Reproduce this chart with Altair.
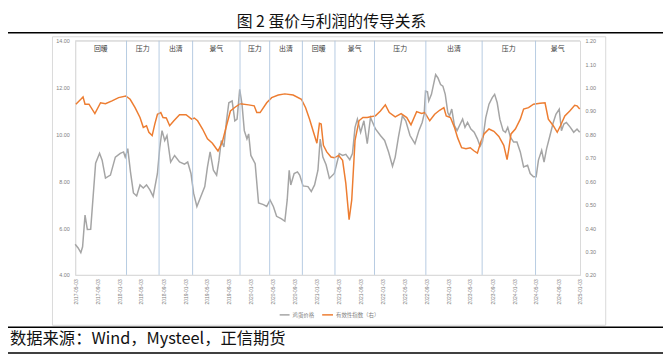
import altair as alt
import pandas as pd

# ---- data (decimal years) ----
gray_t = [2017.334, 2017.379, 2017.420, 2017.447, 2017.484, 2017.519, 2017.570, 2017.645, 2017.705, 2017.744,
          2017.795, 2017.870, 2017.945, 2018.020, 2018.070, 2018.095, 2018.134, 2018.175, 2018.220, 2018.269,
          2018.320, 2018.370, 2018.419, 2018.470, 2018.520, 2018.585, 2018.621, 2018.655, 2018.696, 2018.730,
          2018.786, 2018.846, 2018.921, 2018.996, 2019.045, 2019.095, 2019.135, 2019.185, 2019.245, 2019.305,
          2019.346, 2019.386, 2019.436, 2019.485, 2019.521, 2019.556, 2019.596, 2019.635, 2019.671, 2019.721,
          2019.762, 2019.796, 2019.836, 2019.871, 2019.906, 2019.946, 2019.972, 2020.006, 2020.071, 2020.122,
          2020.197, 2020.246, 2020.296, 2020.347, 2020.396, 2020.471, 2020.521, 2020.557, 2020.587, 2020.611,
          2020.662, 2020.712, 2020.746, 2020.797, 2020.872, 2020.922, 2020.972, 2021.023, 2021.057, 2021.098,
          2021.147, 2021.197, 2021.272, 2021.347, 2021.398, 2021.447, 2021.507, 2021.548, 2021.587, 2021.623,
          2021.672, 2021.722, 2021.773, 2021.822, 2021.898, 2021.973, 2022.037, 2022.097, 2022.157, 2022.198,
          2022.247, 2022.307, 2022.358, 2022.423, 2022.498, 2022.558, 2022.608, 2022.638, 2022.659, 2022.689,
          2022.708, 2022.749, 2022.813, 2022.848, 2022.888, 2022.923, 2022.959, 2022.998, 2023.023, 2023.058,
          2023.099, 2023.139, 2023.174, 2023.223, 2023.259, 2023.298, 2023.349, 2023.399, 2023.448, 2023.489,
          2023.524, 2023.575, 2023.624, 2023.674, 2023.710, 2023.749, 2023.789, 2023.839, 2023.875, 2023.909,
          2023.950, 2023.999, 2024.049, 2024.100, 2024.150, 2024.210, 2024.250, 2024.300, 2024.340, 2024.375,
          2024.424, 2024.460, 2024.499, 2024.550, 2024.600, 2024.640, 2024.690, 2024.724, 2024.760, 2024.799,
          2024.859, 2024.910, 2024.960, 2025.001]
gray_v = [5.31, 5.15, 4.95, 5.2, 6.55, 5.94, 5.95, 8.77, 9.19, 8.9,
          8.13, 8.26, 9.03, 9.19, 9.25, 9.03, 9.39, 8.4, 7.5, 7.37,
          7.84, 7.71, 7.84, 7.63, 7.35, 8.33, 9.46, 10.16, 9.74, 9.95,
          8.82, 9.1, 8.82, 8.73, 8.82, 8.33, 7.49, 6.92, 7.35, 7.77,
          8.61, 9.25, 8.47, 8.26, 8.9, 9.74, 9.46, 10.58, 11.35, 11.43,
          10.58, 10.65, 11.92, 11.29, 10.16, 9.81, 10.02, 9.1, 8.75, 7.07,
          7.0, 6.92, 7.2, 6.92, 6.5, 6.39, 6.29, 7.2, 8.47, 7.84,
          8.33, 8.4, 8.26, 7.8, 7.77, 7.56, 7.84, 8.47, 9.8, 9.03,
          8.7, 8.12, 8.33, 9.18, 9.1, 9.15, 8.92, 9.18, 10.3, 10.65,
          10.09, 10.58, 9.6, 10.72, 10.23, 9.95, 9.74, 9.25, 8.64, 9.03,
          9.88, 10.79, 10.58, 9.95, 9.6, 10.16, 10.51, 10.86, 11.85, 11.82,
          11.43, 11.71, 12.55, 12.41, 12.13, 12.06, 11.71, 10.93, 10.79, 11.08,
          10.37, 10.16, 10.37, 10.65, 10.3, 10.51, 10.23, 10.09, 9.81, 9.49,
          9.67, 10.72, 11.29, 11.57, 11.71, 11.35, 10.65, 10.16, 10.09, 10.3,
          9.88, 9.67, 9.67, 9.25, 8.61, 8.68, 8.33, 8.19, 8.19, 8.9,
          9.32, 8.82, 9.39, 9.95, 10.51, 10.86, 11.08, 10.16, 10.44, 10.51,
          10.3, 10.09, 10.23, 10.09]

orange_t = [2017.345, 2017.420, 2017.454, 2017.484, 2017.544, 2017.634, 2017.720, 2017.795, 2017.894, 2017.995,
            2018.104, 2018.170, 2018.245, 2018.320, 2018.370, 2018.419, 2018.455, 2018.505, 2018.545, 2018.585,
            2018.636, 2018.670, 2018.720, 2018.771, 2018.835, 2018.921, 2019.020, 2019.105, 2019.146, 2019.196,
            2019.271, 2019.346, 2019.421, 2019.506, 2019.571, 2019.635, 2019.695, 2019.770, 2019.845, 2019.972,
            2020.056, 2020.096, 2020.146, 2020.246, 2020.321, 2020.422, 2020.521, 2020.647, 2020.772, 2020.836,
            2020.896, 2020.956, 2021.007, 2021.046, 2021.072, 2021.106, 2021.157, 2021.222, 2021.272, 2021.338,
            2021.398, 2021.447, 2021.497, 2021.537, 2021.587, 2021.647, 2021.707, 2021.773, 2021.822, 2021.898,
            2021.973, 2022.048, 2022.108, 2022.198, 2022.288, 2022.374, 2022.438, 2022.524, 2022.599, 2022.648,
            2022.723, 2022.798, 2022.873, 2022.938, 2022.974, 2023.038, 2023.099, 2023.148, 2023.208, 2023.274,
            2023.339, 2023.399, 2023.448, 2023.499, 2023.549, 2023.624, 2023.699, 2023.774, 2023.849, 2023.899,
            2023.924, 2023.959, 2024.025, 2024.100, 2024.150, 2024.225, 2024.300, 2024.400, 2024.475, 2024.525,
            2024.600, 2024.660, 2024.709, 2024.775, 2024.850, 2024.925, 2024.960, 2025.001]
orange_v = [0.929, 0.95, 0.96, 0.929, 0.929, 0.889, 0.935, 0.931, 0.943, 0.957,
            0.964, 0.95, 0.914, 0.872, 0.83, 0.837, 0.809, 0.795, 0.844, 0.886,
            0.893, 0.872, 0.87, 0.837, 0.858, 0.884, 0.884, 0.865, 0.87, 0.858,
            0.823, 0.781, 0.762, 0.729, 0.767, 0.837, 0.9, 0.917, 0.931, 0.926,
            0.922, 0.893, 0.893, 0.935, 0.957, 0.968, 0.973, 0.968, 0.95, 0.914,
            0.865, 0.809, 0.762, 0.847, 0.844, 0.753, 0.725, 0.703, 0.70, 0.71,
            0.689, 0.591, 0.436, 0.52, 0.774, 0.858, 0.872, 0.872, 0.875, 0.879,
            0.9, 0.926, 0.893, 0.875, 0.889, 0.872, 0.841, 0.897, 0.889, 0.893,
            0.858, 0.886, 0.903, 0.914, 0.879, 0.872, 0.83, 0.785, 0.743, 0.739,
            0.743, 0.729, 0.72, 0.767, 0.802, 0.823, 0.813, 0.791, 0.753, 0.692,
            0.735, 0.802, 0.823, 0.865, 0.908, 0.914, 0.929, 0.933, 0.935, 0.865,
            0.837, 0.809, 0.837, 0.879, 0.9, 0.924, 0.922, 0.908]

phase_bounds = [2018.115, 2018.610, 2019.120, 2019.841, 2020.291, 2020.787,
                2021.282, 2021.883, 2022.664, 2023.520, 2024.331]
phase_mid = [2017.724, 2018.362, 2018.865, 2019.481, 2020.066, 2020.539,
             2021.034, 2021.582, 2022.273, 2023.091, 2023.924, 2024.667]
phase_names = ["回暖", "压力", "出清", "景气", "压力", "出清",
               "回暖", "景气", "压力", "出清", "压力", "景气"]

tick_years_months = [(2017, 5), (2017, 9), (2018, 1), (2018, 5), (2018, 9), (2019, 1),
                     (2019, 5), (2019, 9), (2020, 1), (2020, 5), (2020, 9), (2021, 1),
                     (2021, 5), (2021, 9), (2022, 1), (2022, 5), (2022, 9), (2023, 1),
                     (2023, 5), (2023, 9), (2024, 1), (2024, 5), (2024, 9), (2025, 1)]
left_ticks = [4, 6, 8, 10, 12, 14]
right_ticks = [0.2, 0.3, 0.4, 0.5, 0.6, 0.7, 0.8, 0.9, 1.0, 1.1, 1.2]

title_text = "图 2 蛋价与利润的传导关系"
source_text = "数据来源：Wind，Mysteel，正信期货"
legend_gray = "鸡蛋价格"
legend_orange = "有效性指数（右）"

assert len(gray_t) == len(gray_v)
assert len(orange_t) == len(orange_v)


def dec2iso(y):
    yr = int(y)
    start = pd.Timestamp(year=yr, month=1, day=1)
    end = pd.Timestamp(year=yr + 1, month=1, day=1)
    ts = start + (end - start) * (y - yr)
    return ts.strftime("%Y-%m-%dT%H:%M:%S")


df_gray = pd.DataFrame({"date": [dec2iso(t) for t in gray_t], "v": gray_v})
df_orange = pd.DataFrame({"date": [dec2iso(t) for t in orange_t], "v": orange_v})
df_bounds = pd.DataFrame({"date": [dec2iso(t) for t in phase_bounds]})
df_phase = pd.DataFrame({"date": [dec2iso(t) for t in phase_mid], "name": phase_names})
one = pd.DataFrame({"k": [0]})

W, H = 511, 237
CJK = "Noto Sans CJK SC"
LAT = "Liberation Sans"

xscale = alt.Scale(domain=[alt.DateTime(year=2017, month=5, date=3),
                           alt.DateTime(year=2025, month=1, date=3)])
xaxis = alt.Axis(values=[alt.DateTime(year=y, month=m, date=3) for y, m in tick_years_months],
                 format="%Y-%m-%d", labelAngle=270, labelFontSize=5, labelFont=LAT,
                 labelColor="#808080", domainColor="#d9d9d9", ticks=False, grid=False,
                 labelPadding=4, title=None, labelOverlap=False, labelBound=False, labelFlush=False)
X = alt.X("date:T", scale=xscale, axis=xaxis)

frame = alt.Chart(one).mark_rect(filled=False, stroke="#d9d9d9", strokeWidth=1).encode(
    x=alt.value(-23), x2=alt.value(537), y=alt.value(-4), y2=alt.value(288))

toprule = alt.Chart(one).mark_rule(color="#d9d9d9", strokeWidth=1).encode(
    x=alt.value(0), x2=alt.value(W), y=alt.value(0))

vlines = alt.Chart(df_bounds).mark_rule(color="#aec6de", strokeWidth=0.9).encode(
    x=X, y=alt.value(0), y2=alt.value(H))

phases = alt.Chart(df_phase).mark_text(font=CJK, fontSize=7, color="#404040").encode(
    x=X, y=alt.value(8), text="name:N")

gray_line = alt.Chart(df_gray).mark_line(color="#a5a5a5", strokeWidth=1.5).encode(
    x=X,
    y=alt.Y("v:Q", scale=alt.Scale(domain=[4, 14], nice=False),
            axis=alt.Axis(orient="left", values=left_ticks, format=".2f", labelFontSize=5.5,
                          labelFont=LAT, labelColor="#808080", domainColor="#d9d9d9",
                          ticks=False, grid=False, labelPadding=6, title=None)))

orange_line = alt.Chart(df_orange).mark_line(color="#ed7d31", strokeWidth=1.5).encode(
    x=X,
    y=alt.Y("v:Q", scale=alt.Scale(domain=[0.2, 1.2], nice=False),
            axis=alt.Axis(orient="right", values=right_ticks, format=".2f", labelFontSize=5.5,
                          labelFont=LAT, labelColor="#808080", domainColor="#d9d9d9",
                          ticks=False, grid=False, labelPadding=5, title=None)))

title = alt.Chart(one).mark_text(font=CJK, fontSize=16, color="#111111", align="center",
                                 baseline="middle").encode(
    x=alt.value(259.5), y=alt.value(-19), text=alt.value(title_text))

line_top = alt.Chart(one).mark_rule(color="#000000", strokeWidth=1.5).encode(
    x=alt.value(-68), x2=alt.value(595), y=alt.value(-8))

line_mid = alt.Chart(one).mark_rule(color="#000000", strokeWidth=1.5).encode(
    x=alt.value(-68), x2=alt.value(595), y=alt.value(290))

line_bot = alt.Chart(one).mark_rule(color="#000000", strokeWidth=1.5).encode(
    x=alt.value(-68), x2=alt.value(595), y=alt.value(316))

source = alt.Chart(one).mark_text(font=CJK, fontSize=16.5, color="#111111", align="left",
                                  baseline="middle").encode(
    x=alt.value(-66), y=alt.value(302), text=alt.value(source_text))

leg_g_line = alt.Chart(one).mark_rule(color="#a5a5a5", strokeWidth=1.5).encode(
    x=alt.value(207), x2=alt.value(217), y=alt.value(277.5))
leg_g_text = alt.Chart(one).mark_text(font=CJK, fontSize=5.5, color="#808080", align="left",
                                      baseline="middle").encode(
    x=alt.value(220), y=alt.value(277.5), text=alt.value(legend_gray))
leg_o_line = alt.Chart(one).mark_rule(color="#ed7d31", strokeWidth=1.5).encode(
    x=alt.value(250), x2=alt.value(261), y=alt.value(277.5))
leg_o_text = alt.Chart(one).mark_text(font=CJK, fontSize=5.5, color="#808080", align="left",
                                      baseline="middle").encode(
    x=alt.value(264), y=alt.value(277.5), text=alt.value(legend_orange))

chart = alt.layer(
    gray_line, orange_line, frame, toprule, vlines, phases, title, line_top, line_mid, line_bot,
    source, leg_g_line, leg_g_text, leg_o_line, leg_o_text
).resolve_scale(y="independent").properties(
    width=W, height=H,
    autosize=alt.AutoSizeParams(type="none"),
    padding={"left": 68, "top": 31, "right": 84, "bottom": 80},
).configure_view(stroke=None).configure(background="white")

chart.save("out.html", embed_options={"renderer": "svg", "actions": False})
